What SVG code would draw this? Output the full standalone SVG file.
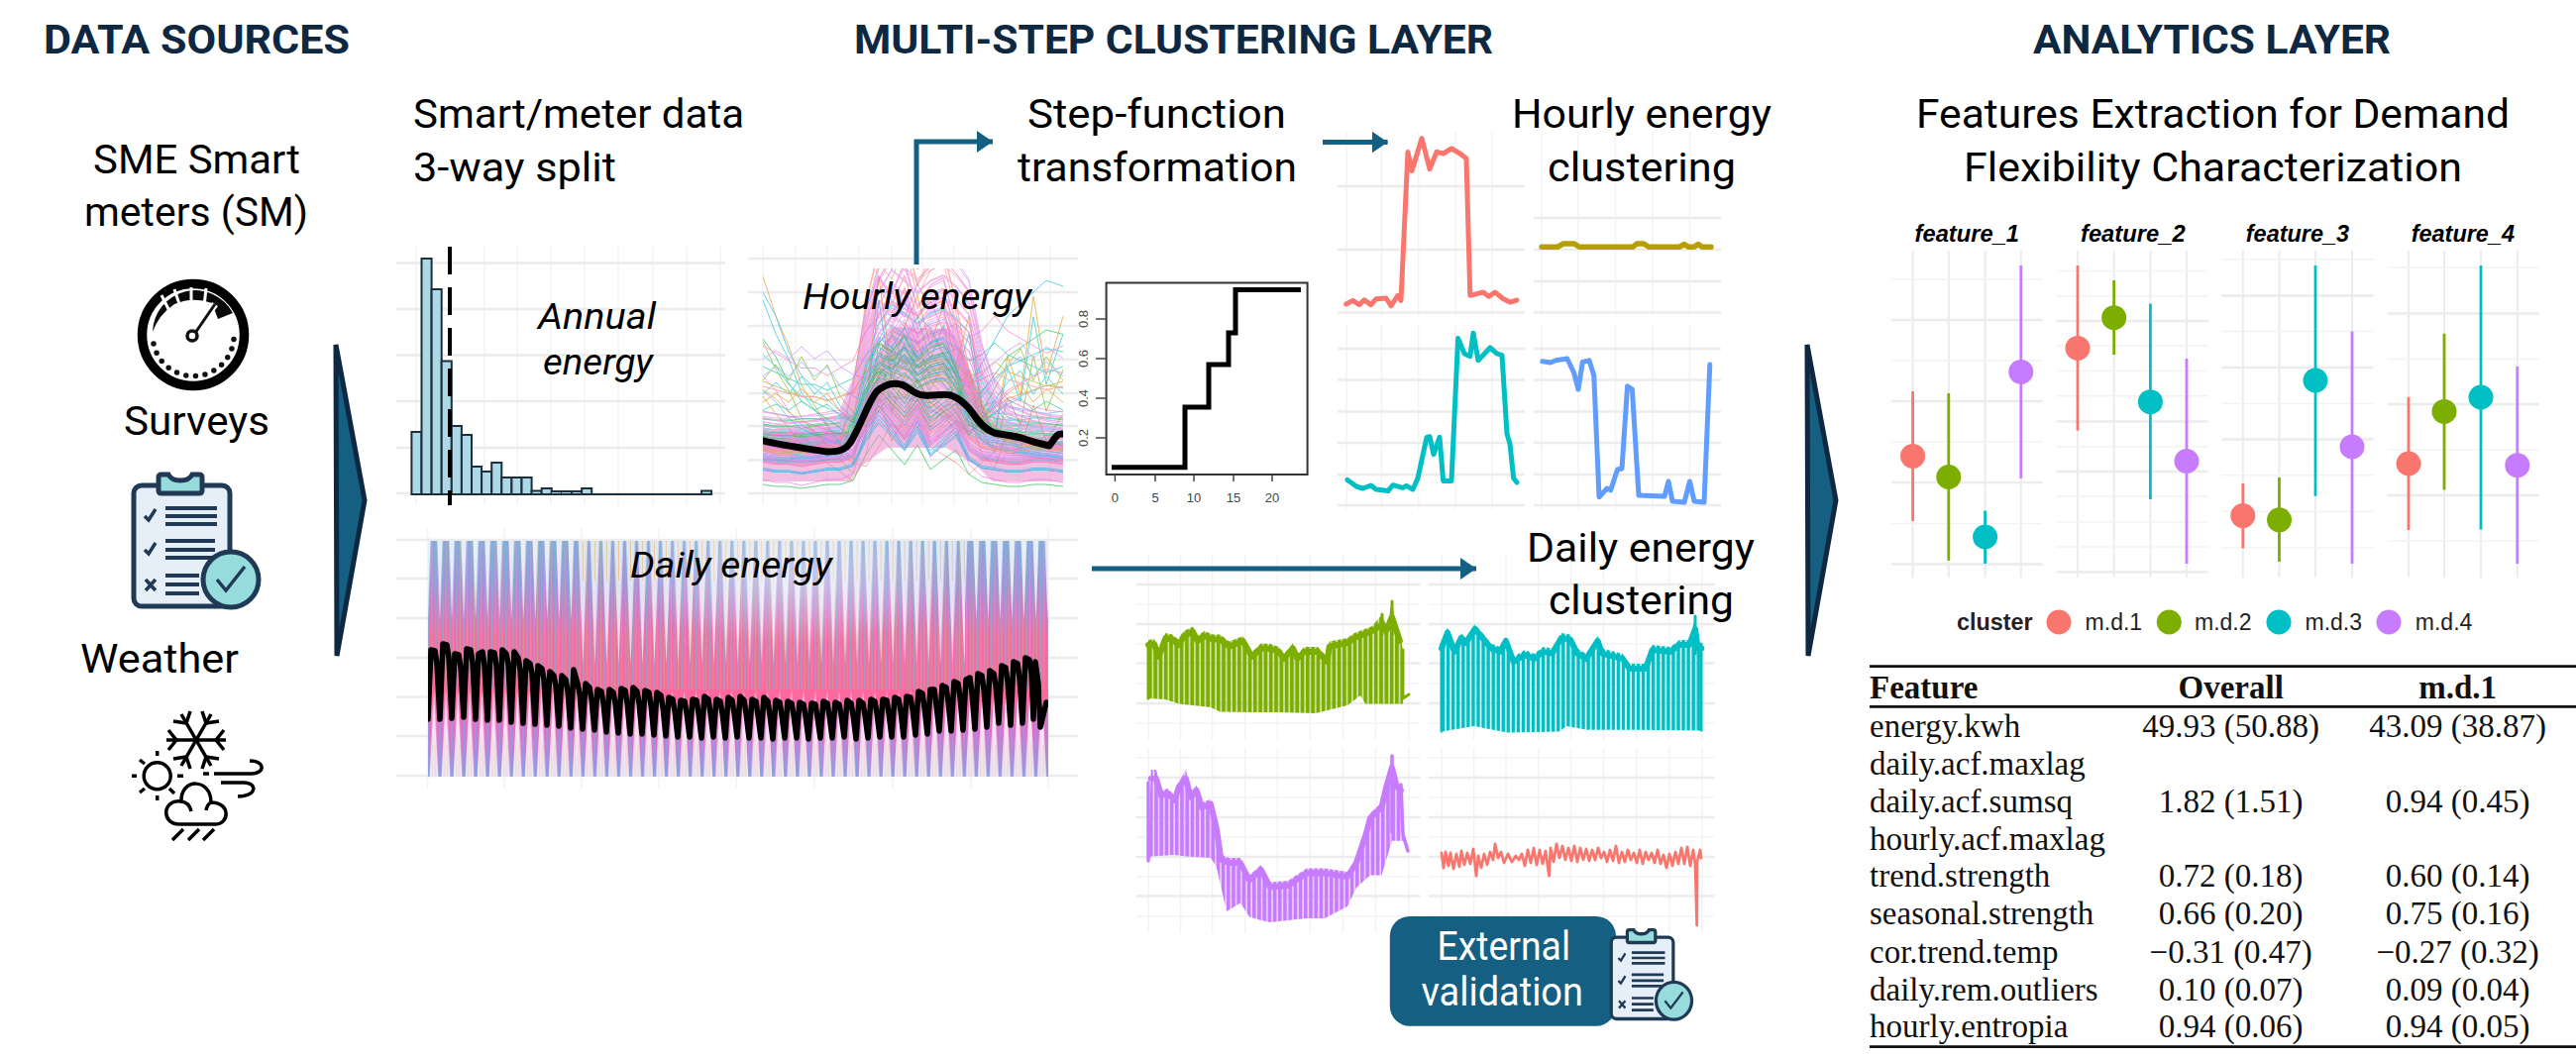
<svg xmlns="http://www.w3.org/2000/svg" width="2600" height="1068" viewBox="0 0 2600 1068">
<style>
.h{font:700 41px Roboto,"Liberation Sans",sans-serif;fill:#0e2841}
.t{font:400 40px Roboto,"Liberation Sans",sans-serif;fill:#000}
.i{font:italic 400 37px Roboto,"Liberation Sans",sans-serif;fill:#000}
.fx{font:italic 700 23px "Liberation Sans",sans-serif;fill:#000}
.lg{font:400 23px "Liberation Sans",sans-serif;fill:#222}
.r{font:400 33px "Liberation Serif",serif;fill:#111}
.rb{font:700 33px "Liberation Serif",serif;fill:#111}
.m{text-anchor:middle}
.ax{font:400 13px "Liberation Sans",sans-serif;fill:#444}
.g1{stroke:#ececec;stroke-width:2.5;fill:none}
.g2{stroke:#f3f3f3;stroke-width:1.5;fill:none}
.big{fill:#156082;stroke:#0e2841;stroke-width:5;stroke-linejoin:miter}
.c{stroke:#156082;stroke-width:5;fill:none}
.s{fill:none;stroke-linejoin:round;stroke-linecap:round}
.e{stroke-width:2.8}
.hl{fill:none;vector-effect:non-scaling-stroke;stroke-width:1}
</style>
<defs>
<marker id="ah" markerUnits="userSpaceOnUse" markerWidth="18" markerHeight="22" refX="16" refY="11" orient="auto"><path d="M0 0L16 11L0 22Z" fill="#156082"/></marker>
<pattern id="cg" patternUnits="userSpaceOnUse" x="1159" width="5.3" height="10"><rect width="5.3" height="10" fill="#7CAE00" opacity=".3"/><rect width="3.7" height="10" fill="#7CAE00"/></pattern>
<pattern id="ct" patternUnits="userSpaceOnUse" x="1455" width="5.05" height="10"><rect width="5.05" height="10" fill="#00BFC4" opacity=".15"/><rect width="3.3" height="10" fill="#00BFC4"/></pattern>
<pattern id="cp" patternUnits="userSpaceOnUse" x="1160" width="5.2" height="10"><rect width="5.2" height="10" fill="#C77CFF" opacity=".3"/><rect width="3.7" height="10" fill="#C77CFF"/></pattern>
<pattern id="db" patternUnits="userSpaceOnUse" x="432" y="546" width="12.03" height="238"><path d="M1.5 238L6 150L10.500 238Z" fill="#fff" opacity=".8"/><path d="M4.500 238V195M7.500 238V205" stroke="#e8c89a" stroke-width=".8" opacity=".7"/><path d="M0 238V170M12 238V170" stroke="#7aa8e8" stroke-width="1.6" opacity=".7"/></pattern>
<pattern id="dtA" patternUnits="userSpaceOnUse" x="438" y="546" width="12.03" height="238"><path d="M3.200 0L6 80L8.800 0Z" fill="#fff" opacity=".8"/></pattern>
<pattern id="dtB" patternUnits="userSpaceOnUse" x="438" y="546" width="12.03" height="238"><path d="M1.500 0L6 125L10.500 0Z" fill="#fff" opacity=".72"/><path d="M6 0V40" stroke="#e8c89a" stroke-width="1"/></pattern>
<pattern id="ds" patternUnits="userSpaceOnUse" x="432" y="546" width="7.1" height="150"><rect width="1.5" height="150" fill="#5fc4d4" opacity=".6"/><rect x="3.500" width="1" height="150" fill="#a6cf7a" opacity=".45"/></pattern>
<linearGradient id="dg" x1="0" y1="0" x2="0" y2="1"><stop offset="0" stop-color="#8fa6dc"/><stop offset=".18" stop-color="#a98fdc"/><stop offset=".3" stop-color="#d678c8"/><stop offset=".4" stop-color="#f56ca8"/><stop offset=".65" stop-color="#fd689e"/><stop offset=".8" stop-color="#e070c8"/><stop offset="1" stop-color="#a090e0"/></linearGradient>
<radialGradient id="dw"><stop offset="0" stop-color="#fff" stop-opacity=".45"/><stop offset="1" stop-color="#fff" stop-opacity="0"/></radialGradient>
<clipPath id="hc"><rect x="770" y="271" width="303" height="228"/></clipPath>
<clipPath id="dc"><rect x="432" y="546" width="626" height="238"/></clipPath>
<polyline id="a" class="hl" points="770,40 783,38 796,36 809,36 822,38 835,40 848,42 861,70 874,120 887,160 900,180 913,170 926,160 939,170 952,175 965,165 978,150 991,100 1004,70 1017,55 1030,50 1043,45 1056,42 1073,40"/>
<polyline id="b" class="hl" points="770,170 783,150 796,120 809,100 822,90 835,80 848,70 861,60 874,100 887,130 900,150 913,160 926,150 939,140 952,120 965,100 978,90 991,110 1004,130 1017,150 1030,160 1043,170 1056,180 1073,175"/>
<polyline id="c" class="hl" points="770,20 783,18 796,18 809,20 822,20 835,22 848,24 861,50 874,100 887,130 900,120 913,140 926,110 939,125 952,130 965,100 978,60 991,40 1004,30 1017,28 1030,26 1043,24 1056,22 1073,20"/>
<polyline id="d" class="hl" points="770,100 783,95 796,90 809,85 822,85 835,80 848,85 861,90 874,110 887,120 900,130 913,125 926,120 939,130 952,110 965,115 978,105 991,110 1004,120 1017,110 1030,105 1043,100 1056,95 1073,100"/>
<polyline id="e" class="hl" points="770,60 783,70 796,60 809,75 822,60 835,70 848,50 861,40 874,35 887,60 900,90 913,70 926,85 939,60 952,50 965,40 978,25 991,40 1004,55 1017,70 1030,80 1043,60 1056,75 1073,60"/>
<polyline id="f" class="hl" points="770,220 783,180 796,150 809,110 822,90 835,70 848,50 861,30 874,90 887,220 900,120 913,170 926,200 939,150 952,190 965,130 978,180 991,90 1004,60 1017,140 1030,100 1043,200 1056,120 1073,180"/>
<polyline id="g" class="hl" points="770,10 783,8 796,8 809,6 822,8 835,10 848,10 861,14 874,40 887,60 900,45 913,30 926,50 939,25 952,35 965,45 978,20 991,12 1004,10 1017,8 1030,8 1043,10 1056,10 1073,8"/>
<polyline id="k" class="hl" points="770,60 783,58 796,56 809,55 822,55 835,58 848,60 861,130 874,220 887,260 900,230 913,210 926,250 939,220 952,240 965,200 978,130 991,90 1004,80 1017,70 1030,65 1043,62 1056,60 1073,58"/>
<g id="hB">
<use href="#a" transform="translate(0,486) scale(1,-1)" stroke="#F564E3"/><use href="#a" transform="translate(0,480) scale(1,-.9)" stroke="#00BFC4"/><use href="#a" transform="translate(0,470) scale(1,-1.1)" stroke="#FF64B0"/><use href="#a" transform="translate(0,490) scale(1,-.7)" stroke="#619CFF"/><use href="#a" transform="translate(0,475) scale(1,-.6)" stroke="#7CAE00"/><use href="#a" transform="translate(0,465) scale(1,-.8)" stroke="#F564E3"/><use href="#a" transform="translate(0,482) scale(1,-1.25)" stroke="#C77CFF"/><use href="#c" transform="translate(0,480) scale(1,-1)" stroke="#00B4F0"/><use href="#c" transform="translate(0,470) scale(1,-1.2)" stroke="#FF64B0"/><use href="#c" transform="translate(0,460) scale(1,-.8)" stroke="#00BA38"/><use href="#c" transform="translate(0,450) scale(1,-1)" stroke="#C77CFF"/><use href="#c" transform="translate(0,475) scale(1,-1.4)" stroke="#F564E3"/><use href="#c" transform="translate(0,486) scale(1,-1.7)" stroke="#F8766D"/><use href="#c" transform="translate(0,445) scale(1,-.6)" stroke="#00C08B"/><use href="#g" transform="translate(0,485) scale(1,-1.1)" stroke="#00B4F0"/><use href="#g" transform="translate(0,478) scale(1,-1.3)" stroke="#FF64B0"/><use href="#g" transform="translate(0,470) scale(1,-1)" stroke="#C77CFF"/><use href="#g" transform="translate(0,462) scale(1,-1.2)" stroke="#F8766D"/><use href="#g" transform="translate(0,452) scale(1,-1)" stroke="#619CFF"/><use href="#g" transform="translate(0,442) scale(1,-1)" stroke="#00BA38"/>
</g>
<g id="clip">
<rect x="135" y="490" width="97" height="122" rx="8" fill="#e6eff8" stroke="#203a55" stroke-width="5"/>
<path d="M160 482q0-3 3-3h7q3 6 12 6t12-6h7q3 0 3 3v13q0 3-3 3h-38q-3 0-3-3z" fill="#96dcdc" stroke="#203a55" stroke-width="5"/>
<path d="M167 513h52M167 521h52M167 529h52M167 546h50M167 555h50M167 563h50M167 581h34M167 590h34M167 599h34" stroke="#203a55" stroke-width="4" fill="none"/>
<path d="M146 521l4 4 7-11M146 555l4 4 7-11" stroke="#203a55" stroke-width="3.5" fill="none"/>
<path d="M147 585l10 11M157 585l-10 11" stroke="#203a55" stroke-width="3.5" fill="none"/>
<circle cx="233" cy="585" r="28" fill="#96dcdc" stroke="#203a55" stroke-width="5"/>
<path d="M219 585l9 11 19-24" stroke="#203a55" stroke-width="3.5" fill="none"/>
</g>
</defs>
<rect width="2600" height="1068" fill="#fff"/>

<g id="titles">
<text class="h" x="44" y="54" textLength="309" lengthAdjust="spacingAndGlyphs">DATA SOURCES</text>
<text class="h" x="862" y="54" textLength="645" lengthAdjust="spacingAndGlyphs">MULTI-STEP CLUSTERING LAYER</text>
<text class="h" x="2052" y="54" textLength="361" lengthAdjust="spacingAndGlyphs">ANALYTICS LAYER</text>
</g>

<g id="node-sme">
<text class="t" x="94" y="175" textLength="209" lengthAdjust="spacingAndGlyphs">SME Smart</text>
<text class="t" x="85" y="228" textLength="226" lengthAdjust="spacingAndGlyphs">meters (SM)</text>
<circle cx="195" cy="338" r="51.5" fill="#fff" stroke="#000" stroke-width="9.500"/>
<path d="M154 335A43 43 0 0 1 235 316L220 322L214 306Q195 299 176 307Q160 318 154 335Z" fill="#0a0a0a"/>
<path d="M163 298L171 314M176 292L182 310M193 290V308M208 291L206 309" stroke="#fff" stroke-width="3"/>
<path d="M195 339L217 307" stroke="#fff" stroke-width="7"/>
<path d="M195 339L217 307" stroke="#111" stroke-width="3"/>
<path d="M155 347A41 41 0 0 0 236 342" fill="none" stroke="#111" stroke-width="5.500" stroke-linecap="round" stroke-dasharray="0 9.700"/>
<circle cx="194" cy="339" r="5" fill="#fff" stroke="#111" stroke-width="3.500"/>
</g>
<g id="node-surveys">
<text class="t" x="125" y="439" textLength="147" lengthAdjust="spacingAndGlyphs">Surveys</text>
<use href="#clip"/>
</g>
<g id="node-weather">
<text class="t" x="81" y="679" textLength="160" lengthAdjust="spacingAndGlyphs">Weather</text>
<g fill="none" stroke="#000" stroke-width="3.500">
<path d="M168 747H228M183 721L213 773M213 721L183 773"/>
<path d="M175 728L188 730L192 718M221 728L208 730L204 718M175 766L188 764L192 776M221 766L208 764L204 776M170 737L178 747L170 757M226 737L218 747L226 757"/>
<circle cx="158.700" cy="783.300" r="13.500"/>
<path d="M158.700 758v5M158.700 803v5M133 783.300h5M179 783.300h6M141 767l5 4M141 800l5-4M171 796l5 5"/>
<path d="M181 832H217C232 832 233 810 213 810C213 785 182 785 183 809C164 806 162 832 181 832Z"/>
<path d="M183 809Q191 810 193 819M213 810Q209 812 208 818"/>
<path d="M174 848L185 837M190 848L201 837M205 848L216 837"/>
<path d="M205 781H211M216 781H253C268 781 268 768 252 768M223 790H246C260 790 260 804 240 804"/>
</g>
</g>

<g id="node-arrow-in"><polygon class="big" points="339,348 368,505 340,662"/></g>
<g id="node-arrow-out"><polygon class="big" points="1824,348 1853,505 1825,662"/></g>

<g id="node-split">
<text class="t" x="417" y="129" textLength="334" lengthAdjust="spacingAndGlyphs">Smart/meter data</text>
<text class="t" x="417" y="183" textLength="205" lengthAdjust="spacingAndGlyphs">3-way split</text>
</g>

<g id="node-annual">
<path class="g2" d="M420 249V510M489 249V510M522 249V510M556 249V510M590 249V510M624 249V510M659 249V510M693 249V510M727 249V510"/>
<path class="g1" d="M400 265.500H732M400 312H732M400 358.600H732M400 405H732M400 452H732M400 498H732"/>
<g fill="#add8e6" stroke="#1d2f3c" stroke-width="2">
<rect x="415.400" y="436" width="10.100" height="63"/><rect x="425.500" y="261" width="10.100" height="238"/><rect x="435.600" y="292" width="10.100" height="207"/><rect x="445.700" y="364.500" width="10.100" height="134.500"/><rect x="455.800" y="430" width="10.100" height="69"/><rect x="465.900" y="439" width="10.100" height="60"/><rect x="476" y="471" width="10.100" height="28"/><rect x="486.100" y="476" width="10.100" height="23"/><rect x="496.200" y="467" width="10.100" height="32"/><rect x="506.300" y="482" width="10.100" height="17"/><rect x="516.400" y="482" width="10.100" height="17"/><rect x="526.500" y="482" width="10.100" height="17"/><rect x="536.600" y="495.500" width="10.100" height="3.500"/><rect x="546.700" y="493" width="10.100" height="6"/><rect x="556.800" y="496" width="10.100" height="3"/><rect x="566.900" y="496" width="10.100" height="3"/><rect x="577" y="496" width="10.100" height="3"/><rect x="587.100" y="493" width="10.100" height="6"/><rect x="708" y="495.500" width="10.100" height="3.500"/>
</g>
<path d="M415 499H718" stroke="#1d2f3c" stroke-width="2"/>
<path d="M454 249V510" stroke="#000" stroke-width="4" stroke-dasharray="28 13"/>
<text class="i" x="543" y="332" textLength="119" lengthAdjust="spacingAndGlyphs">Annual</text>
<text class="i" x="548" y="378" textLength="111" lengthAdjust="spacingAndGlyphs">energy</text>
</g>

<g id="node-hourly">
<path class="g2" d="M770 248V510M803 248V510M835 248V510M867 248V510M900 248V510M931 248V510M963 248V510M996 248V510M1028 248V510M1060 248V510"/>
<path class="g1" d="M755 261H1088M755 295H1088M755 329H1088M755 363H1088M755 397H1088M755 430H1088M755 464.500H1088M755 498H1088"/>
<g clip-path="url(#hc)">
<g opacity=".6">
<use href="#f" transform="translate(0,499) scale(1,-1)" stroke="#DE8C00"/><use href="#f" transform="translate(0,490) scale(1,-.85)" stroke="#00BFC4"/><use href="#f" transform="translate(0,499) scale(1,-.7)" stroke="#7CAE00"/><use href="#k" transform="translate(0,499) scale(1,-.85)" stroke="#C77CFF"/><use href="#k" transform="translate(0,499) scale(1,-.6)" stroke="#DE8C00"/><use href="#b" transform="translate(0,499) scale(1,-1.2)" stroke="#00B4F0"/><use href="#b" transform="translate(0,495) scale(1,-.9)" stroke="#00BA38"/><use href="#b" transform="translate(0,499) scale(1,-.7)" stroke="#F564E3"/><use href="#b" transform="translate(0,488) scale(1,-.55)" stroke="#619CFF"/><use href="#d" transform="translate(0,499) scale(1,-1.5)" stroke="#FF64B0"/><use href="#d" transform="translate(0,490) scale(1,-1.2)" stroke="#00C08B"/><use href="#d" transform="translate(0,485) scale(1,-1)" stroke="#B79F00"/><use href="#e" transform="translate(0,480) scale(1,-1.6)" stroke="#7CAE00"/><use href="#e" transform="translate(0,470) scale(1,-1.2)" stroke="#00BFC4"/><use href="#e" transform="translate(0,499) scale(1,-.8)" stroke="#F8766D"/><use href="#e" transform="translate(0,440) scale(1,-1)" stroke="#619CFF"/><use href="#e" transform="translate(0,410) scale(1,-.8)" stroke="#C77CFF"/><use href="#f" transform="translate(0,499) scale(1,-.45)" stroke="#DE8C00"/><use href="#g" transform="translate(0,499) scale(1,-1)" stroke="#00BA38"/><use href="#g" transform="translate(0,499) scale(1,-1.5)" stroke="#F564E3"/><use href="#b" transform="translate(0,460) scale(1,-.6)" stroke="#00BFC4"/><use href="#b" transform="translate(0,470) scale(1,-.45)" stroke="#DE8C00"/><use href="#d" transform="translate(0,460) scale(1,-.7)" stroke="#F8766D"/><use href="#d" transform="translate(0,465) scale(1,-.5)" stroke="#619CFF"/><use href="#e" transform="translate(0,460) scale(1,-.9)" stroke="#DE8C00"/><use href="#e" transform="translate(0,450) scale(1,-.6)" stroke="#00C08B"/>
</g>
<path d="M770 436H858L878 375L900 330L960 332L985 385L1002 436L1073 446V486H1002L985 470L955 452H895L870 470L858 486H770Z" fill="#e58ac8" opacity=".55"/>
<g opacity=".55">
<use href="#hB"/><use href="#hB" transform="translate(0,-10)"/><use href="#hB" transform="translate(0,33.500) scale(1,.93)"/><use href="#hB" transform="translate(0,-30) scale(1,1.06)"/><use href="#hB" transform="translate(0,62) scale(1,.87)"/>
</g>
<path class="s" stroke="#000" stroke-width="7" d="M770.400 444.800C785 449 815 453 834.700 456C845 456 853 455 858 447C868 432 876 406 885 395C893 388 902 386 909 388C918 390 922 399 932.700 399C942 400 952 397 959.700 399C968 402 975 408 981 416C989 428 995 434 1003.700 437C1015 439 1022 440 1030.700 442C1042 446 1050 448 1059 450C1063 446 1065 438 1071.300 438"/>
</g>
<text class="i" x="810" y="312" textLength="231" lengthAdjust="spacingAndGlyphs">Hourly energy</text>
</g>

<g id="node-daily">
<path class="g2" d="M431.600 533V796M509 533V796M587 533V796M665 533V796M743 533V796M822 533V796M901 533V796M980 533V796M1058 533V796"/>
<path class="g1" d="M400 545H1088M400 584H1088M400 624H1088M400 664H1088M400 703.500H1088M400 743H1088M400 783H1088"/>
<g clip-path="url(#dc)">
<rect x="432" y="546" width="626" height="238" fill="url(#dg)"/>
<rect x="432" y="546" width="626" height="150" fill="url(#ds)"/>
<rect x="432" y="546" width="626" height="238" fill="url(#db)"/>
<rect x="432" y="546" width="150" height="238" fill="url(#dtA)"/>
<rect x="974" y="546" width="84" height="238" fill="url(#dtA)"/>
<rect x="582" y="546" width="392" height="238" fill="url(#dtB)"/>
<ellipse cx="800" cy="580" rx="170" ry="70" fill="url(#dw)"/>
<path class="s" stroke="#000" stroke-width="5.500" d="M432 726 435,656 439,657 441,670 444,726 447,650 451,651 453,664 456,725 459,660 463,661 465,674 468,724 471,655 475,656 477,669 480,726 483,660 487,658 489,672 492,727 495,658 499,659 501,672 504,727 507,656 511,660 513,670 516,729 519,658 523,664 525,676 528,730 531,667 535,670 537,680 540,731 543,672 547,675 549,686 552,732 555,678 559,682 561,692 564,733 567,682 571,686 573,698 576,735 579,676 583,690 585,700 588,736 591,690 595,694 597,706 600,737 603,696 607,698 609,710 612,739 615,696 619,699 621,710 624,740 627,695 631,697 633,710 636,741 639,694 643,698 645,710 648,741 651,697 655,699 657,712 660,742 663,699 667,702 669,714 672,743 675,704 679,706 681,718 684,744 687,707 691,708 693,720 696,744 699,706 703,707 705,720 708,745 711,703 715,706 717,720 720,744 723,706 727,708 729,720 732,745 735,704 739,707 741,720 744,744 747,703 751,707 753,720 756,745 759,706 763,708 765,722 768,745 771,704 775,708 777,722 780,746 783,707 787,709 789,722 792,745 795,708 799,710 801,722 804,745 807,709 811,711 813,723 816,746 819,710 823,711 825,724 828,745 831,708 835,710 837,722 840,745 843,709 847,711 849,722 852,744 855,707 859,710 861,722 864,746 867,707 871,710 873,722 876,745 879,706 883,708 885,720 888,744 891,706 895,707 897,720 900,744 903,704 907,706 909,718 912,744 915,703 919,704 921,716 924,742 927,698 931,700 933,714 936,741 939,696 943,696 945,712 948,738 951,692 955,694 957,708 960,738 963,688 967,690 969,704 972,737 975,686 979,684 981,700 984,736 987,680 991,682 993,696 996,734 999,677 1003,680 1005,692 1008,730 1011,672 1015,674 1017,688 1020,732 1023,668 1027,670 1029,684 1032,730 1035,664 1039,666 1041,680 1043,726 1045,668 1048,690 1050,734 1053,722 1056,709"/>
</g>
<text class="i" x="636" y="583" textLength="204" lengthAdjust="spacingAndGlyphs">Daily energy</text>
</g>

<g id="node-step">
<text class="t" x="1037" y="129" textLength="261" lengthAdjust="spacingAndGlyphs">Step-function</text>
<text class="t" x="1027" y="183" textLength="282" lengthAdjust="spacingAndGlyphs">transformation</text>
<rect x="1116.600" y="285.500" width="203" height="193.500" fill="#fff" stroke="#333" stroke-width="2"/>
<path d="M1122 471.700H1196V411H1220V368H1240V336H1247V292.400H1313" fill="none" stroke="#000" stroke-width="5"/>
<path d="M1125.400 479V486M1166 479V486M1205 479V486M1245 479V486M1284 479V486M1116.600 442H1106M1116.600 402H1106M1116.600 362H1106M1116.600 322H1106" stroke="#444" stroke-width="1.500"/>
<text class="ax m" x="1125.400" y="507">0</text><text class="ax m" x="1166" y="507">5</text><text class="ax m" x="1205" y="507">10</text><text class="ax m" x="1245" y="507">15</text><text class="ax m" x="1284" y="507">20</text>
<text class="ax m" transform="translate(1098,442) rotate(-90)">0.2</text><text class="ax m" transform="translate(1098,402) rotate(-90)">0.4</text><text class="ax m" transform="translate(1098,362) rotate(-90)">0.6</text><text class="ax m" transform="translate(1098,322) rotate(-90)">0.8</text>
</g>

<g id="node-hourly-clusters">
<path class="g2" d="M1359 133V319M1394.500 133V319M1431.700 133V319M1469 133V319M1506 133V319M1556 133V319M1593 133V319M1630.500 133V319M1668 133V319M1705.500 133V319M1359 328V514M1394.500 328V514M1431.700 328V514M1469 328V514M1506 328V514M1556 328V514M1593 328V514M1630.500 328V514M1668 328V514M1705.500 328V514"/>
<path class="g1" d="M1350 188H1539M1350 252H1539M1350 315.500H1539M1548 220H1737M1548 252H1737M1548 284H1737M1548 315.500H1737M1350 352H1539M1350 383.500H1539M1350 415.500H1539M1350 447H1539M1350 479H1539M1350 510H1539M1548 352H1737M1548 383.500H1737M1548 415.500H1737M1548 447H1737M1548 479H1737M1548 510H1737"/>
<polyline class="s" stroke="#F8766D" stroke-width="5" points="1358.700,307 1365.400,303.400 1372,307.600 1377,302.800 1383.700,307.600 1389,301.700 1399,301 1404,308.600 1410.700,298.300 1414,303.400 1421,153.400 1425,172.400 1435,139.700 1443,170.700 1450,153.400 1456.700,155 1465,150 1473.600,155 1480,160 1483.800,298.300 1490.500,296.600 1497,295 1502.700,299.300 1508.800,295 1517.500,301.700 1524,305 1531,303"/>
<polyline class="s" stroke="#B79F00" stroke-width="5.500" points="1556,249.300 1572,249.300 1578,246 1589,246 1594,249.300 1648,249.300 1652,246 1659,246 1664,249.300 1695,249.300 1700,246.500 1704,249.300 1710,249.300 1714,246.500 1718,249.300 1727,249.300"/>
<polyline class="s" stroke="#00BFC4" stroke-width="5" points="1360,484.500 1369,491 1375.600,493 1383.700,490 1389,494 1401,495.500 1406,489.700 1416,492.400 1419.500,490.300 1426,494 1431,482.800 1440,441.400 1443,440.700 1447,458.600 1453,441.400 1456.700,485.500 1465,485.500 1471.600,341.400 1478,356.900 1483.800,359.700 1487,336.200 1492,363.800 1504,351 1510.800,356.900 1516,358.600 1521,438 1524,448 1527.700,482.800 1531,487"/>
<polyline class="s" stroke="#619CFF" stroke-width="5" points="1556.800,364.800 1565,366 1570.300,363.800 1581.800,362 1588.500,376 1593,393 1597.300,365.500 1604,363.800 1608.800,379.300 1614,501.700 1622,493 1625.700,494.800 1632.500,474 1637,473 1642.600,389.700 1647.400,393 1654,500 1680,501 1684,486 1688,506 1700,507 1705.500,486 1710,506 1720,507 1725.800,368"/>
<text class="t" x="1526" y="129" textLength="262" lengthAdjust="spacingAndGlyphs">Hourly energy</text>
<text class="t" x="1562" y="183" textLength="190" lengthAdjust="spacingAndGlyphs">clustering</text>
</g>

<g id="node-daily-clusters">
<path class="g2" d="M1159 560V747M1191.600 560V747M1223.700 560V747M1256.800 560V747M1289.400 560V747M1322.400 560V747M1355.500 560V747M1388.500 560V747M1422 560V747M1455 560V747M1487.700 560V747M1520 560V747M1553 560V747M1585.500 560V747M1618.600 560V747M1651.600 560V747M1684.700 560V747M1717.800 560V747M1159 755V942M1191.600 755V942M1223.700 755V942M1256.800 755V942M1289.400 755V942M1322.400 755V942M1355.500 755V942M1388.500 755V942M1422 755V942M1455 755V942M1487.700 755V942M1520 755V942M1553 755V942M1585.500 755V942M1618.600 755V942M1651.600 755V942M1684.700 755V942M1717.800 755V942"/>
<path class="g1" d="M1146.600 590H1433.500M1146.600 630H1433.500M1146.600 669.600H1433.500M1146.600 710H1433.500M1441.800 590H1730.600M1441.800 630H1730.600M1441.800 669.600H1730.600M1441.800 710H1730.600M1146.600 785H1433.500M1146.600 825H1433.500M1146.600 865H1433.500M1146.600 904.600H1433.500M1441.800 785H1730.600M1441.800 825H1730.600M1441.800 865H1730.600M1441.800 904.600H1730.600"/>
<path class="g2" d="M1146.600 610H1433.500M1146.600 650H1433.500M1146.600 690H1433.500M1146.600 730H1433.500M1441.800 610H1730.600M1441.800 650H1730.600M1441.800 690H1730.600M1441.800 730H1730.600M1146.600 764.800H1433.500M1146.600 805H1433.500M1146.600 845H1433.500M1146.600 885H1433.500M1146.600 925H1433.500M1441.800 764.800H1730.600M1441.800 805H1730.600M1441.800 845H1730.600M1441.800 885H1730.600M1441.800 925H1730.600"/>
<polygon fill="url(#cg)" points="1159,646 1165,645 1169.500,658 1176.400,639 1183.300,640.600 1190,646 1194.800,637 1204,632.600 1208.600,642 1215.400,637 1224.600,640.600 1231.500,640.600 1240.700,647.600 1254.500,642 1263.700,658 1272.800,649.400 1282,650 1291,653 1295.800,660 1305,649.400 1309.600,660 1316.500,653 1330,653 1339.400,663 1341.700,647.600 1360,644 1367,639 1385,632 1395.400,619.700 1399,632 1405,607.400 1409,630 1412.900,642 1416,656 1416,710.600 1378,710.600 1373,702 1360,712 1328,720 1287,719 1263.700,719 1231.500,718.600 1222,714 1190,710.600 1176,706 1159,705"/>
<polyline class="s" stroke="#7CAE00" stroke-width="6" transform="translate(0,5)" points="1159,646 1165,645 1169.500,658 1176.400,639 1183.300,640.600 1190,646 1194.800,637 1204,632.600 1208.600,642 1215.400,637 1224.600,640.600 1231.500,640.600 1240.700,647.600 1254.500,642 1263.700,658 1272.800,649.400 1282,650 1291,653 1295.800,660 1305,649.400 1309.600,660 1316.500,653 1330,653 1339.400,663 1341.700,647.600 1360,644 1367,639 1385,632 1395.400,625 1399,632 1405,618 1409,630 1412.900,642"/>
<path class="s" stroke="#7CAE00" stroke-width="3" d="M1159 705V650M1416 656V705L1422 701M1405 607V640M1395 620V640"/>
<polygon fill="url(#ct)" points="1455,649.400 1461,633.600 1468,652.900 1474.800,638.900 1479.400,644 1488.600,630 1497.800,640.600 1504.700,649.400 1513.900,652.900 1519.900,642 1527.700,663 1539,656 1548.300,660 1557.500,652.900 1566.700,654.600 1575.900,638.900 1585,640.600 1592,654.600 1601,660 1612.600,642 1617,654.600 1637.800,660 1644.700,670 1660.800,670 1667.700,651 1686,652.900 1695,645.900 1705,645.900 1711.300,622.400 1713.600,649.400 1717.300,649.400 1717.300,737.500 1651,736.800 1602,736.800 1581,733 1574,738.500 1521,739.600 1488,733 1455,738.500"/>
<polyline class="s" stroke="#00BFC4" stroke-width="6" transform="translate(0,5)" points="1455,649.400 1461,633.600 1468,652.900 1474.800,638.900 1479.400,644 1488.600,630 1497.800,640.600 1504.700,649.400 1513.900,652.900 1519.900,642 1527.700,663 1539,656 1548.300,660 1557.500,652.900 1566.700,654.600 1575.900,638.900 1585,640.600 1592,654.600 1601,660 1612.600,642 1617,654.600 1637.800,660 1644.700,670 1660.800,670 1667.700,651 1686,652.900 1695,645.900 1705,645.900 1711,630 1713.600,649.400 1717.300,649.400"/>
<path class="s" stroke="#00BFC4" stroke-width="3" d="M1455 650V738M1711 622V660M1717 650V737"/>
<polygon fill="url(#cp)" points="1159,869.700 1161.700,777 1167,777 1172,798 1178.700,796 1185.600,803 1190,789 1197,777 1201.700,799.700 1207.600,792.700 1213,810 1222,806.700 1227.800,831 1232.400,862.700 1240.700,866 1252,866 1261,883.600 1272.800,873 1282,890.600 1300,889 1318.800,876.600 1337,876.600 1360,880 1369,866 1378.400,838 1383,820.700 1394.500,810 1399,785.700 1405,763 1409.700,789 1414,792.700 1416,841.700 1420.700,859 1416,848.700 1405,848.700 1394.500,883.600 1383,883.600 1369,896 1360,915 1337,927 1318.800,927 1282,931 1272.800,929 1261,925.600 1252,911.600 1238,920 1232,894 1227.800,875 1222,866 1197,864.400 1185.600,863 1161.700,864.400"/>
<polyline class="s" stroke="#C77CFF" stroke-width="6" transform="translate(0,5)" points="1161.700,781 1167,781 1172,798 1178.700,796 1185.600,803 1190,789 1197,781 1201.700,799.700 1207.600,792.700 1213,810 1222,806.700 1227.800,831 1232.400,862.700 1240.700,866 1252,866 1261,883.600 1272.800,873 1282,890.600 1300,889 1318.800,876.600 1337,876.600 1360,880 1369,866 1378.400,838 1383,820.700 1394.500,810 1399,790 1405,770 1409.700,789 1414,792.700"/>
<path class="s" stroke="#C77CFF" stroke-width="3.500" d="M1159 869V790M1405 763V840M1414 792L1416 842L1421 859"/>
<polyline class="s" stroke="#F8766D" stroke-width="2.800" points="1455,861 1457,876 1459,860 1462,874 1464,861 1467,877 1470,862 1473,875 1475,859 1478,873 1481,861 1484,872 1487,857 1490,884 1492,864 1495,876 1498,862 1501,873 1504,860 1507,868 1509,852 1512,866 1515,860 1518,871 1522,862 1526,870 1530,864 1533,868 1536,862 1539,874 1542,858 1545,871 1548,856 1551,873 1554,858 1557,872 1560,859 1563.500,884 1565,856 1568,870 1571,852 1574,866 1577,854 1580,868 1583,856 1586,869 1589,854 1592,870 1595,856 1598,868 1601,857 1604,869 1607,858 1610,868 1613,856 1616,866 1619,860 1622,870 1625,858 1628,869 1631,854 1634,871 1637,860 1640,870 1643,858 1646,868 1649,861 1652,871 1655,858 1658,872 1661,860 1664,868 1667,861 1670,871 1673,858 1676,872 1679,863 1682,876 1685,862 1688,874 1691,860 1694,872 1697,856 1700,872 1703,855 1706,874 1709,858 1711,872 1712.700,934 1713,870 1716,858 1717,866"/>
<text class="t" x="1541" y="567" textLength="230" lengthAdjust="spacingAndGlyphs">Daily energy</text>
<text class="t" x="1563" y="619.500" textLength="187" lengthAdjust="spacingAndGlyphs">clustering</text>
</g>

<g id="node-validation">
<rect x="1402.800" y="925" width="228.200" height="110.700" rx="20" fill="#156082"/>
<text class="t" x="1450.500" y="968.600" textLength="134.500" lengthAdjust="spacingAndGlyphs" style="fill:#fff">External</text>
<text class="t" x="1434.400" y="1014.800" textLength="163.600" lengthAdjust="spacingAndGlyphs" style="fill:#fff">validation</text>
<use href="#clip" transform="translate(1625,938) scale(.645,.675) translate(-133,-478)"/>
</g>

<g id="node-features">
<text class="t" x="1934" y="129" textLength="599" lengthAdjust="spacingAndGlyphs">Features Extraction for Demand</text>
<text class="t" x="1982" y="183" textLength="503" lengthAdjust="spacingAndGlyphs">Flexibility Characterization</text>
<text class="fx" x="1932.600" y="244" textLength="105.400" lengthAdjust="spacingAndGlyphs">feature_1</text>
<text class="fx" x="2100" y="244" textLength="105.600" lengthAdjust="spacingAndGlyphs">feature_2</text>
<text class="fx" x="2266.800" y="244" textLength="104.200" lengthAdjust="spacingAndGlyphs">feature_3</text>
<text class="fx" x="2433.700" y="244" textLength="104.300" lengthAdjust="spacingAndGlyphs">feature_4</text>
<path class="g1" d="M1930.600 253V583M1966.800 253V583M2003.600 253V583M2039.800 253V583M2097 253V583M2133.700 253V583M2170.400 253V583M2207 253V583M2263.800 253V583M2300.500 253V583M2337 253V583M2374 253V583M2431 253V583M2467 253V583M2504 253V583M2540.800 253V583" style="stroke-width:2"/>
<path class="g1" d="M1908.700 323H2061.700M1908.700 405H2061.700M1908.700 487H2061.700M1908.700 569.500H2061.700M2075.500 324H2228.600M2075.500 425.500H2228.600M2075.500 476H2228.600M2075.500 577.500H2228.600M2242 298.400H2395.400M2242 371H2395.400M2242 443.600H2395.400M2409.700 316.500H2562.800M2409.700 408H2562.800M2409.700 500H2562.800"/>
<path class="g2" d="M1908.700 282H2061.700M1908.700 364H2061.700M1908.700 446H2061.700M1908.700 528.600H2061.700M2075.500 273.600H2228.600M2075.500 298.800H2228.600M2075.500 349.300H2228.600M2075.500 374.600H2228.600M2075.500 399.800H2228.600M2075.500 450.800H2228.600M2075.500 501.300H2228.600M2075.500 527H2228.600M2075.500 552H2228.600M2242 261.800H2395.400M2242 334.600H2395.400M2242 407.400H2395.400M2242 479.800H2395.400M2242 516.400H2395.400M2242 553H2395.400M2409.700 270H2562.800M2409.700 362.400H2562.800M2409.700 454H2562.800M2409.700 546H2562.800"/>
<g stroke="#F8766D" class="e"><path d="M1930.600 395V526M2097 268V434.800M2263.800 488V553.400M2431 400.700V535"/></g>
<g stroke="#7CAE00" class="e"><path d="M1966.800 397V566M2133.700 283V358M2300.500 482V567M2467 336.700V494.500"/></g>
<g stroke="#00BFC4" class="e"><path d="M2003.600 515.600V569M2170.400 306.400V504M2337 268V500.800M2504 268V534.500"/></g>
<g stroke="#C77CFF" class="e"><path d="M2039.800 268V483M2207 362V569M2374 334.600V569M2540.800 370V569"/></g>
<g fill="#F8766D"><circle cx="1930.600" cy="460.400" r="12.500"/><circle cx="2097" cy="351.400" r="12.500"/><circle cx="2263.800" cy="520.600" r="12.500"/><circle cx="2431" cy="468" r="12.500"/><circle cx="2078" cy="628" r="12.500"/></g>
<g fill="#7CAE00"><circle cx="1966.800" cy="481.500" r="12.500"/><circle cx="2133.700" cy="320.700" r="12.500"/><circle cx="2300.500" cy="524.800" r="12.500"/><circle cx="2467" cy="415.400" r="12.500"/><circle cx="2189.300" cy="628" r="12.500"/></g>
<g fill="#00BFC4"><circle cx="2003.600" cy="542" r="12.500"/><circle cx="2170.400" cy="405.700" r="12.500"/><circle cx="2337" cy="384" r="12.500"/><circle cx="2504" cy="401" r="12.500"/><circle cx="2300" cy="628" r="12.500"/></g>
<g fill="#C77CFF"><circle cx="2039.800" cy="375.400" r="12.500"/><circle cx="2207" cy="465.500" r="12.500"/><circle cx="2374" cy="451" r="12.500"/><circle cx="2540.800" cy="469.700" r="12.500"/><circle cx="2411" cy="628" r="12.500"/></g>
<text class="lg" x="1975" y="635.500" style="font-weight:700" textLength="76.500" lengthAdjust="spacingAndGlyphs">cluster</text>
<text class="lg" x="2104.600" y="635.500">m.d.1</text><text class="lg" x="2215" y="635.500">m.d.2</text><text class="lg" x="2326.500" y="635.500">m.d.3</text><text class="lg" x="2437.800" y="635.500">m.d.4</text>
</g>

<g id="node-table">
<path d="M1887 672.700H2600M1887 713.300H2600M1887 1056.700H2600" stroke="#111" stroke-width="2.800"/>
<text class="rb" x="1887" y="705">Feature</text><text class="rb m" x="2251.700" y="705">Overall</text><text class="rb m" x="2480.600" y="705">m.d.1</text>
<text class="r" x="1887" y="744.300">energy.kwh</text><text class="r m" x="2251.700" y="744.300">49.93 (50.88)</text><text class="r m" x="2480.600" y="744.300">43.09 (38.87)</text>
<text class="r" x="1887" y="781.700">daily.acf.maxlag</text>
<text class="r" x="1887" y="820">daily.acf.sumsq</text><text class="r m" x="2251.700" y="820">1.82 (1.51)</text><text class="r m" x="2480.600" y="820">0.94 (0.45)</text>
<text class="r" x="1887" y="857.700">hourly.acf.maxlag</text>
<text class="r" x="1887" y="895">trend.strength</text><text class="r m" x="2251.700" y="895">0.72 (0.18)</text><text class="r m" x="2480.600" y="895">0.60 (0.14)</text>
<text class="r" x="1887" y="933.300">seasonal.strength</text><text class="r m" x="2251.700" y="933.300">0.66 (0.20)</text><text class="r m" x="2480.600" y="933.300">0.75 (0.16)</text>
<text class="r" x="1887" y="971.700">cor.trend.temp</text><text class="r m" x="2251.700" y="971.700">−0.31 (0.47)</text><text class="r m" x="2480.600" y="971.700">−0.27 (0.32)</text>
<text class="r" x="1887" y="1010">daily.rem.outliers</text><text class="r m" x="2251.700" y="1010">0.10 (0.07)</text><text class="r m" x="2480.600" y="1010">0.09 (0.04)</text>
<text class="r" x="1887" y="1047.300">hourly.entropia</text><text class="r m" x="2251.700" y="1047.300">0.94 (0.06)</text><text class="r m" x="2480.600" y="1047.300">0.94 (0.05)</text>
</g>

<g id="connectors">
<path class="c" d="M925 267V143H1002" marker-end="url(#ah)"/>
<path class="c" d="M1335 143.500H1400.600" marker-end="url(#ah)"/>
<path class="c" d="M1102 574H1490" marker-end="url(#ah)"/>
</g>
</svg>
